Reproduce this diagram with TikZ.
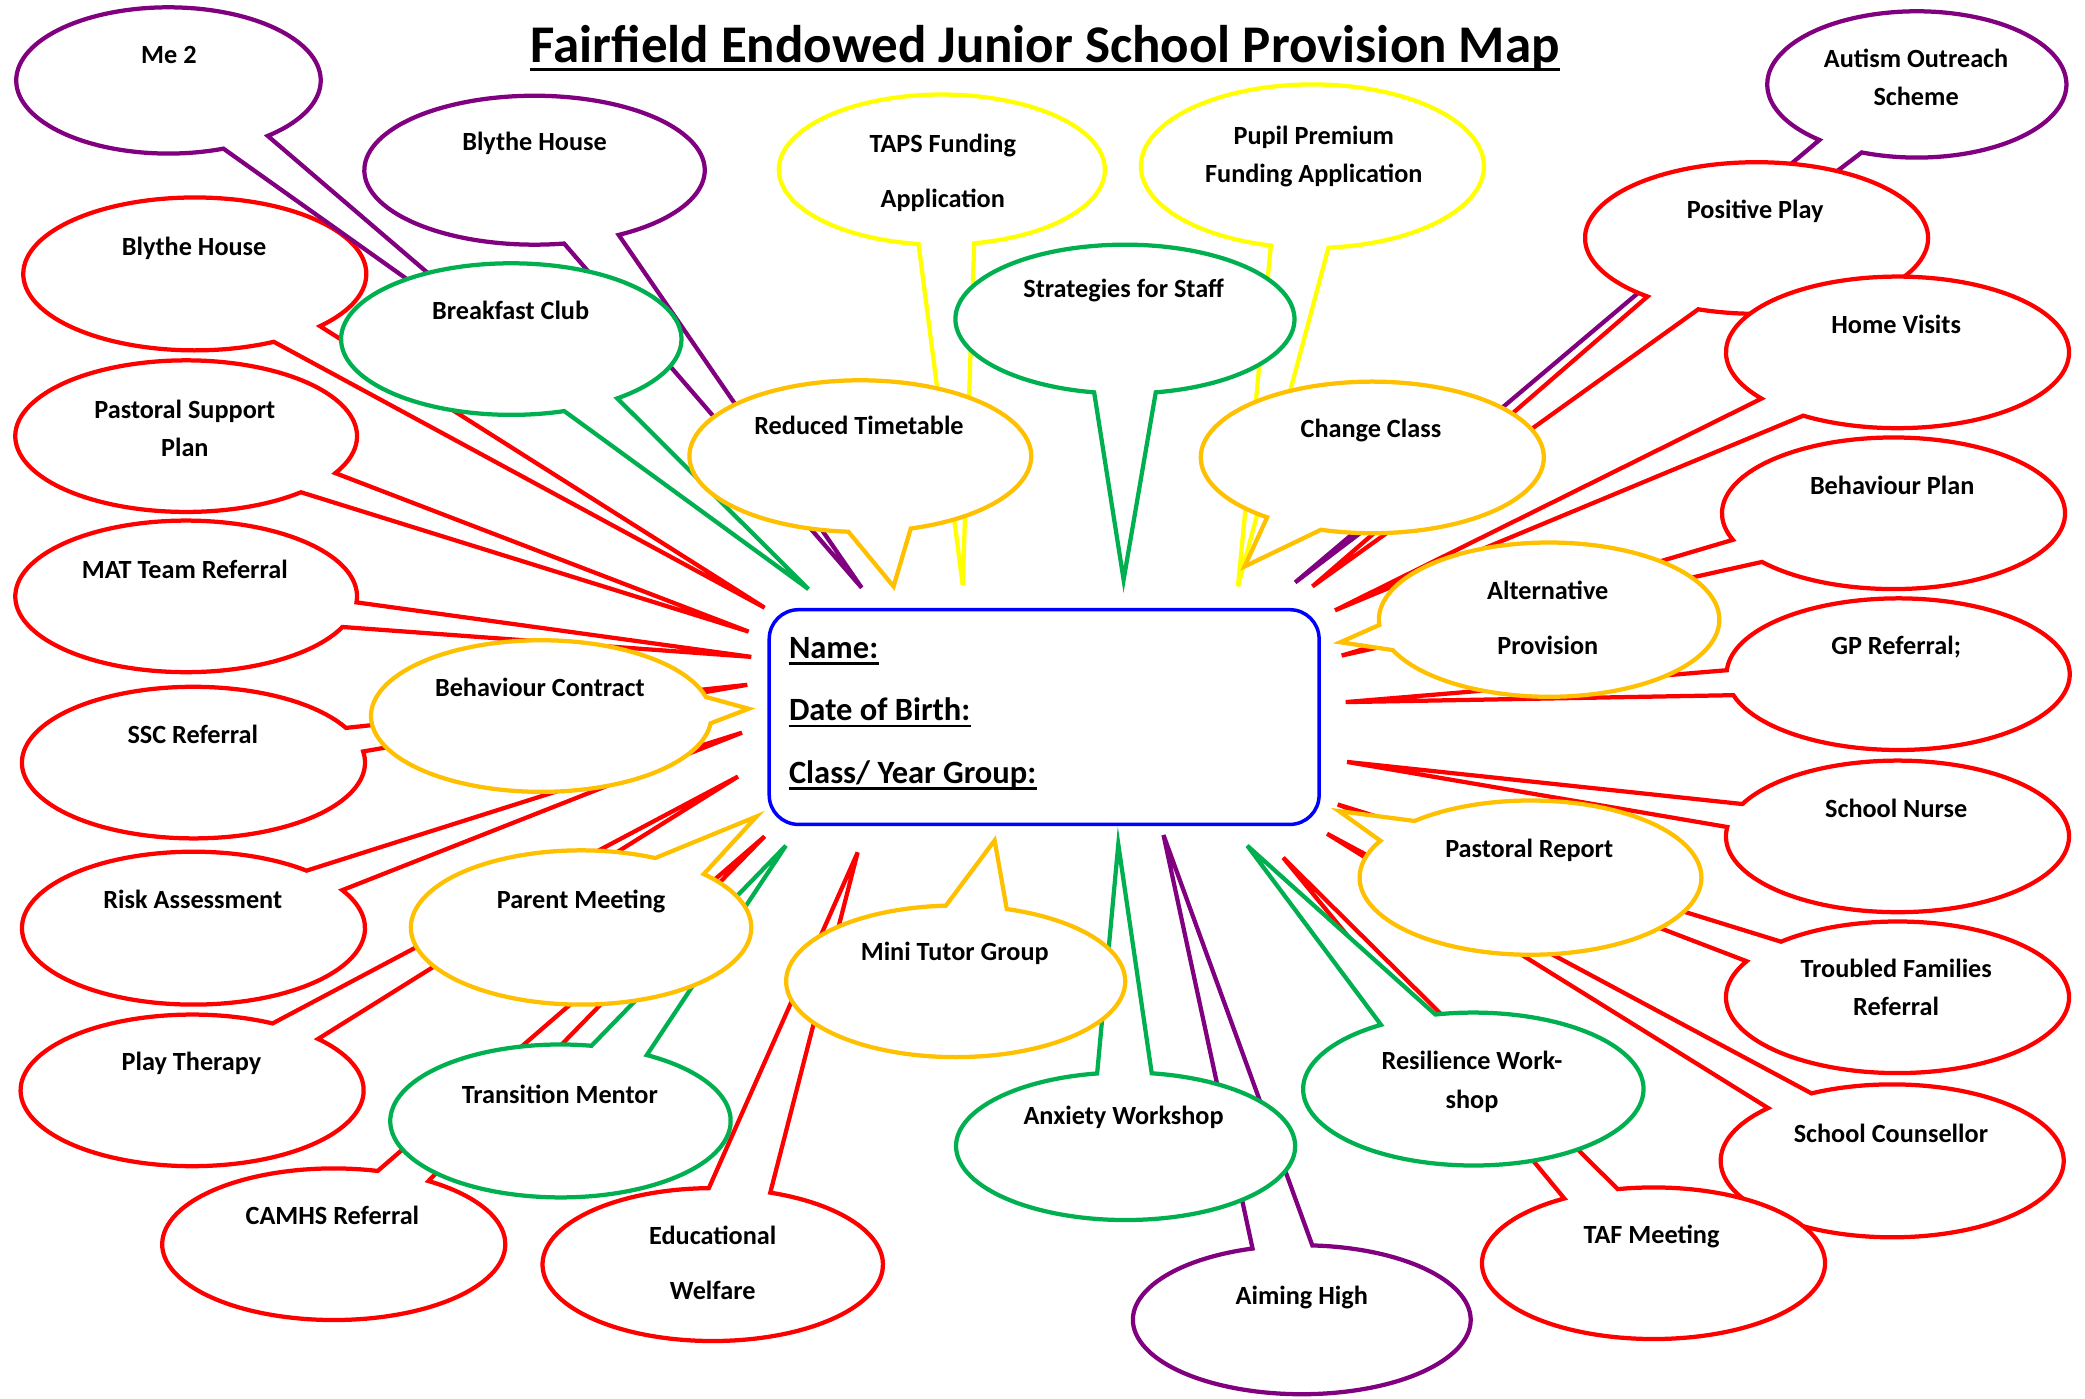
\documentclass[tikz,border=0pt]{standalone}
\usepackage{fontspec}
\setmainfont{Carlito}
\usetikzlibrary{calc}
\definecolor{cpurple}{RGB}{128,0,128}
\definecolor{cred}{RGB}{255,0,0}
\definecolor{cgreen}{RGB}{0,176,80}
\definecolor{camber}{RGB}{255,192,0}
\definecolor{cyellow}{RGB}{255,255,0}
\definecolor{cblue}{RGB}{0,0,255}
\def\unitpt{0.532}
\def\getxy#1,#2\relax#3#4{\def#3{#1}\def#4{#2}}
% #1 colour, #2 centre, #3 radii, #4 base point 1, #5 base point 2, #6 tip
\newcommand\bub[6]{%
  \getxy#2\relax\bcx\bcy
  \getxy#3\relax\brx\bry
  \getxy#4\relax\bax\bay
  \getxy#5\relax\bbx\bby
  \getxy#6\relax\btx\bty
  \pgfmathsetmacro\aA{atan2((\bcy-\bay)/\bry,(\bax-\bcx)/\brx)}%
  \pgfmathsetmacro\aB{atan2((\bcy-\bby)/\bry,(\bbx-\bcx)/\brx)}%
  \pgfmathsetmacro\dd{mod(\aB-\aA+720,360)}%
  \pgfmathsetmacro\st{\dd>180 ? \aA : \aB}%
  \pgfmathsetmacro\sw{\dd>180 ? \dd : 360-\dd}%
  \pgfmathsetmacro\rxd{\brx*\unitpt}%
  \pgfmathsetmacro\ryd{\bry*\unitpt}%
  \filldraw[bubble,draw=#1] ({\bcx+\brx*cos(\st)},{-\bcy+\bry*sin(\st)})
    arc[start angle=\st, delta angle=\sw, x radius=\rxd pt, y radius=\ryd pt]
    -- (\btx,-\bty) -- cycle;
}
\begin{document}
\begin{tikzpicture}[x=0.532pt, y=0.532pt,
  bubble/.style={fill=white, line width=1.7pt},
  lbl/.style={font=\fontsize{10.5}{12}\selectfont\bfseries, anchor=base, inner sep=0pt},
  boxtxt/.style={font=\fontsize{13}{15}\selectfont\bfseries, anchor=base west, inner sep=0pt},
  ul/.style={line width=1pt, black}]
\useasboundingbox[fill=white] (0,0) rectangle (1568,-1052);

% title
\node[font=\fontsize{21.2}{25}\selectfont\bfseries, anchor=base, inner sep=0pt] (title) at (786,-47) {Fairfield Endowed Junior School Provision Map};
\draw[line width=1.25pt] ($(title.base west)+(0,-5.5)$) -- ($(title.base east)+(0,-5.5)$);

% bubbles, bottom to top
\bub{cpurple}{1441.5,63.5}{112.5,55}{1367,106}{1399,116}{974,438}
\node[lbl] (t2a) at (1441,-51) {Autism Outreach};
\node[lbl] (t2b) at (1441,-79.6) {Scheme};

\bub{cred}{1321,179}{129,57}{1239,223}{1276,234}{987,441}
\node[lbl] (t3) at (1320,-164.5) {Positive Play};

\bub{cred}{1427,265}{129,57}{1324,300}{1354,314}{1004,459}
\node[lbl] (t4) at (1426,-251) {Home Visits};

\bub{cred}{1424,386}{129,57}{1303,406}{1324,423}{1009,493}
\node[lbl] (t5) at (1423,-371.6) {Behaviour Plan};

\bub{cred}{1427.5,507}{129,57}{1298,504}{1302,523}{1012,528}
\node[lbl] (t6) at (1426,-492) {GP Referral;};

\bub{cred}{1427,629}{129,57}{1312,605}{1300,622}{1013,573}
\node[lbl] (t7) at (1426,-615) {School Nurse};

\bub{cred}{1427,750}{129,57}{1339,708}{1314,723}{1006,605}
\node[lbl] (t8a) at (1426,-735) {Troubled Families};
\node[lbl] (t8b) at (1426,-764) {Referral};

\bub{cred}{1423,873}{129,57.5}{1362,822}{1329,833}{998,627}
\node[lbl] (t9) at (1422,-859) {School Counsellor};

\bub{cred}{1243.5,950}{129,57}{1176,901}{1216,893}{965,645}
\node[lbl] (t10) at (1242,-935.4) {TAF Meeting};

\bub{cpurple}{979,992.5}{127,56}{942,939}{987,936}{875,628}
\node[lbl] (t11) at (979,-980.7) {Aiming High};

\bub{cred}{251,935.7}{129,57}{285,879}{324,887}{575,629}
\node[lbl] (t12) at (250,-921) {CAMHS Referral};

\bub{cred}{536,951}{128,57.5}{533,892}{580,896}{645,641}
\node[lbl] (t13a) at (536,-936) {Educational};
\node[lbl] (t13b) at (536,-977.4) {Welfare};

\bub{cred}{144.5,820}{129,57}{207,768}{240,781}{555,584}
\node[lbl] (t14) at (144,-805) {Play Therapy};

\bub{cred}{145.5,698}{129,57.5}{232,654}{259,669}{558,551}
\node[lbl] (t15) at (145,-683) {Risk Assessment};

\bub{cred}{145.5,573.5}{129,57}{262,547}{275,565}{562,515}
\node[lbl] (t16) at (145,-559) {SSC Referral};

\bub{cred}{140,448.5}{128.5,57}{268,453}{260,472}{565,494}
\node[lbl] (t17) at (139,-435) {MAT Team Referral};

\bub{cred}{140,328}{128.5,57}{253,356}{228,371}{563,475}
\node[lbl] (t18a) at (139,-315) {Pastoral Support};
\node[lbl] (t18b) at (139,-343) {Plan};

\bub{cred}{146.5,206}{129,57.5}{240,245}{207,258}{575,457}
\node[lbl] (t19) at (146,-192) {Blythe House};

\bub{cpurple}{126.7,60.5}{114.5,55}{169,113}{201,102}{430,298}
\node[lbl] (t20) at (127,-48) {Me 2};

\bub{cpurple}{402,128}{128,56}{425,185}{467,178}{648,442}
\node[lbl] (t21) at (402,-113.5) {Blythe House};

\bub{cyellow}{708.3,127.6}{122.6,56.5}{690,186}{734,186}{724,440}
\node[lbl] (t22a) at (709,-114.8) {TAPS Funding};
\node[lbl] (t22b) at (709,-156) {Application};

\bub{cyellow}{987,125}{129,61.5}{954,188}{1000,191}{931,441}
\node[lbl] (t23a) at (988,-109) {Pupil Premium};
\node[lbl] (t23b) at (988,-137.6) {Funding Application};

\bub{cgreen}{846,240}{127.5,56}{822,297}{870,297}{845,436}
\node[lbl] (t1) at (845,-224) {Strategies for Staff};

\bub{cgreen}{384.5,255}{128,57}{425,310}{465,300}{608,443}
\node[lbl] (t24) at (384,-240) {Breakfast Club};

\bub{camber}{647,343}{128.5,57}{638,400}{686,399}{672,441}
\node[lbl] (t25) at (646,-327) {Reduced Timetable};

\bub{camber}{1032,344}{129,57}{953,389}{993,399}{936,426}
\node[lbl] (t26) at (1031,-329) {Change Class};

\bub{camber}{1165,466}{128,58}{1037,470}{1047,489}{1008,483}
\node[lbl] (t27a) at (1164,-450.5) {Alternative};
\node[lbl] (t27b) at (1164,-492) {Provision};

\bub{camber}{407,538.5}{128,57}{532,524}{536,544}{563,533}
\node[lbl] (t28) at (406,-523.5) {Behaviour Contract};

\bub{cgreen}{421.5,843}{128,57.5}{445,786}{487,793}{591,636}
\node[lbl] (t29) at (421,-829.5) {Transition Mentor};

\bub{camber}{437,697.5}{128,58}{493,645}{530,657}{569,614}
\node[lbl] (t30) at (437,-683) {Parent Meeting};

\bub{cgreen}{846.5,862}{127.5,55.5}{823,802}{868,802}{841,635}
\node[lbl] (t31) at (845,-846) {Anxiety Workshop};

\bub{camber}{718.7,738}{127.5,57}{711,679}{759,681}{748,632}
\node[lbl] (t32) at (718,-722.7) {Mini Tutor Group};

\bub{cgreen}{1108,819}{128,57.5}{1039,771}{1079,762}{938,636}
\node[lbl] (t33a) at (1107,-804) {Resilience Work-};
\node[lbl] (t33b) at (1107,-833.6) {shop};

\bub{camber}{1151,660}{128.5,58}{1063,617}{1037,632}{1007,610}
\node[lbl] (t34) at (1150,-644.6) {Pastoral Report};

% central box
\node[draw=cblue, line width=1.4pt, rounded corners=11.7pt, fill=white,
  minimum width=220pt, minimum height=85.9pt, inner sep=0pt] (box) at (785.25,-539.25) {};
\node[boxtxt] (name) at (593,-495) {Name:};
\node[boxtxt] (dob) at (593,-542) {Date of Birth:};
\node[boxtxt] (cls) at (593,-589) {Class/ Year Group:};
\foreach \n in {name,dob,cls}
  \draw[ul] ($(\n.base west)+(0,-4)$) -- ($(\n.base east)+(0,-4)$);
\end{tikzpicture}
\end{document}
